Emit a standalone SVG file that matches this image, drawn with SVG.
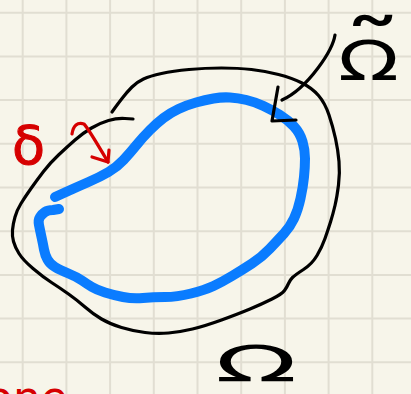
<svg xmlns="http://www.w3.org/2000/svg" width="411" height="394" viewBox="0 0 411 394">
  <defs>
    <style>
      .grid line { stroke: #e1ded2; stroke-width: 2; }
      .ink { fill: none; stroke: #000; stroke-width: 3.2; stroke-linecap: round; stroke-linejoin: round; }
      .blue { fill: none; stroke: #0a7cff; stroke-width: 10; stroke-linecap: round; stroke-linejoin: round; }
      .red { fill: none; stroke: #d60000; stroke-width: 3.2; stroke-linecap: round; stroke-linejoin: round; }
      .lblk { font-family: "DejaVu Sans", sans-serif; fill: #000; }
      .lred { font-family: "DejaVu Sans", sans-serif; fill: #d60000; }
    </style>
  </defs>
  <rect width="411" height="394" fill="#f7f5ea"/>
  <g class="grid">
    <line x1="22.7" y1="0" x2="22.7" y2="394"/>
    <line x1="66.4" y1="0" x2="66.4" y2="394"/>
    <line x1="110.1" y1="0" x2="110.1" y2="394"/>
    <line x1="153.8" y1="0" x2="153.8" y2="394"/>
    <line x1="197.5" y1="0" x2="197.5" y2="394"/>
    <line x1="241.2" y1="0" x2="241.2" y2="394"/>
    <line x1="284.9" y1="0" x2="284.9" y2="394"/>
    <line x1="328.6" y1="0" x2="328.6" y2="394"/>
    <line x1="372.3" y1="0" x2="372.3" y2="394"/>
    <line x1="0" y1="12.7" x2="411" y2="12.7"/>
    <line x1="0" y1="56.4" x2="411" y2="56.4"/>
    <line x1="0" y1="100.1" x2="411" y2="100.1"/>
    <line x1="0" y1="143.8" x2="411" y2="143.8"/>
    <line x1="0" y1="187.5" x2="411" y2="187.5"/>
    <line x1="0" y1="231.2" x2="411" y2="231.2"/>
    <line x1="0" y1="274.9" x2="411" y2="274.9"/>
    <line x1="0" y1="318.6" x2="411" y2="318.6"/>
    <line x1="0" y1="362.3" x2="411" y2="362.3"/>
  </g>
  <g id="omega">
    <path class="ink" d="M133,119 L125,118.5 Q117,118 108.5,120.5 Q100,123 91.5,128 Q83,133 75,140 Q67,147 58.5,155 Q50,163 43.5,171.5 Q37,180 31,188.5 Q25,197 21,203.5 Q17,210 15,217 Q13,224 12.5,230 Q12,236 13.5,241.5 Q15,247 19,253.5 Q23,260 33,268.5 Q43,277 51.5,282.5 Q60,288 68.5,294 Q77,300 85,307 Q93,314 101.5,319 Q110,324 121.5,327.5 Q133,331 145,332.5 Q157,334 168.5,333 Q180,332 192.5,329 Q205,326 221.5,320 Q238,314 250,309 Q262,304 272,299 Q282,294 284.5,290.5 Q287,287 288.5,283.5 Q290,280 292.5,277.5 Q295,275 303.5,269.5 Q312,264 317,255.5 Q322,247 325,238.5 Q328,230 330.5,222 Q333,214 335,205.5 Q337,197 338.5,185 Q340,173 339,161.5 Q338,150 335.5,138.5 Q333,127 329,115 Q325,103 318.5,95.5 Q312,88 302,83 Q292,78 278.5,74.5 Q265,71 251.5,69.5 Q238,68 221.5,68 Q205,68 189,69.5 Q173,71 161.5,73.5 Q150,76 143.5,79 Q137,82 132,87 Q127,92 122,98.5 Q117,105 114.5,108.5 L112,112"/>
    <text class="lblk" transform="translate(215,381) scale(2.15,1)" font-size="50">Ω</text>
  </g>
  <g id="omega-tilde">
    <path class="blue" d="M55,197 L66,192 Q77,187 88.5,182 Q100,177 108.5,172 Q117,167 123.5,160 Q130,153 136.5,145 Q143,137 150,130 Q157,123 163.5,118 Q170,113 178.5,109 Q187,105 196,102.5 Q205,100 213.5,98.5 Q222,97 230,97.5 Q238,98 246.5,100 Q255,102 263.5,106 Q272,110 280,115 Q288,120 294,126.5 Q300,133 302.5,141.5 Q305,150 305,158.5 Q305,167 304,177 Q303,187 300.5,198.5 Q298,210 294,218.5 Q290,227 284,233.5 Q278,240 270,248.5 Q262,257 252,263.5 Q242,270 232,276 Q222,282 213.5,286 Q205,290 191,293.5 Q177,297 165,297 Q153,297 143,298 Q133,299 123,297 Q113,295 105,292.5 Q97,290 92,287 Q87,284 82,280.5 Q77,277 68.5,273.5 Q60,270 55,267 Q50,264 47.5,259.5 Q45,255 44,249.5 Q43,244 41.5,237 Q40,230 39,225 Q38,220 40,217 Q42,214 45,212 Q48,210 53,210 L59,209"/>
    <text class="lblk" transform="translate(338,80) scale(1.45,1)" font-size="84" letter-spacing="1"><tspan font-size="55" letter-spacing="3">Ω</tspan>̃</text>
  </g>
  <g id="delta">
    <text class="lred" x="12" y="164" font-size="54" stroke="#d60000" stroke-width="1">δ</text>
  </g>
  <g id="note">
    <text class="lred" x="-14" y="413" font-size="44">one</text>
  </g>
  <g id="connectors">
    <path class="ink" d="M335,35 Q333,48 318,68 Q300,92 282,100"/>
    <path class="ink" d="M278,87 L272,121 L296,120"/>
    <path class="red" d="M72,134 Q74,121 84,124 Q88,128 108,162"/>
    <path class="red" d="M92,157 L108,162 L109,150"/>
  </g>
</svg>
